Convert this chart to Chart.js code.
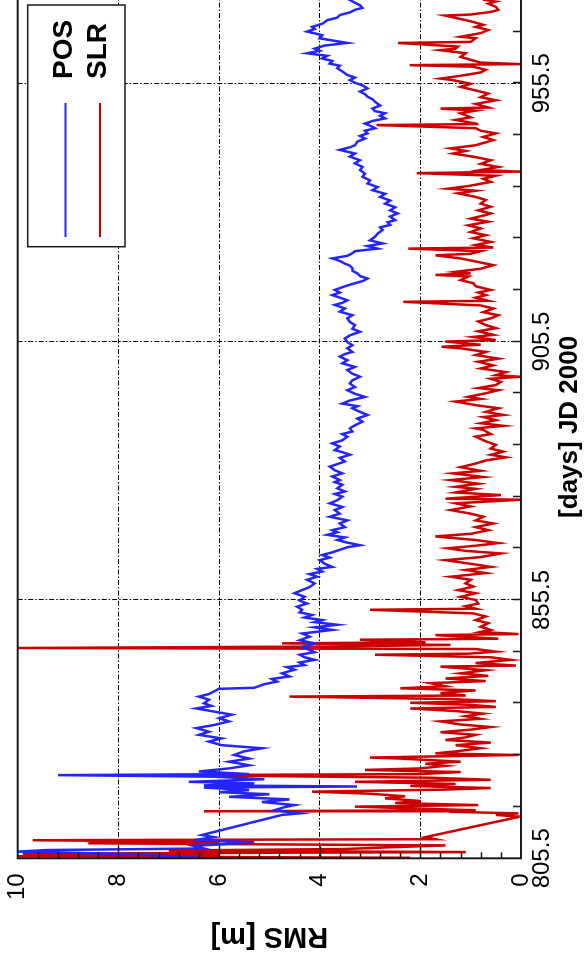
<!DOCTYPE html>
<html><head><meta charset="utf-8">
<script src="https://cdn.jsdelivr.net/npm/chart.js@4.4.1/dist/chart.umd.min.js"></script>
<style>
html,body{margin:0;padding:0;width:585px;height:968px;overflow:hidden;background:#fff;}
#wrap{position:absolute;left:0;top:0;width:990px;height:585px;transform-origin:0 0;transform:translate(0px,968px) rotate(-90deg);}
canvas{display:block;}
</style></head><body>
<div id="wrap"><canvas id="c" width="990" height="585"></canvas></div>
<script>
// Day ticks / RMS ticks
const dayTicks = [805.5, 855.5, 905.5, 955.5];
const dayTickLabels = ['805.5', '855.5', '905.5', '955.5'];
const rmsTicks = [0, 2, 4, 6, 8, 10];
const rmsTickLabels = ['0', '2', '4', '6', '8', '10'];
const seriesNames = ['POS', 'SLR'];

// POS series
const posDays = [
805.6,806.3,806.8,807.1,807.4,807.9,808.6,809.0,809.6,810.0,
813.9,814.2,814.8,815.4,815.8,816.4,816.9,817.4,817.9,818.3,
818.7,819.2,819.4,819.6,820.0,820.3,820.8,821.3,821.6,821.8,
822.3,822.9,823.5,824.2,824.8,825.5,826.2,826.8,827.4,828.1,
828.7,829.4,830.0,830.7,831.3,832.0,832.6,833.3,833.9,834.5,
835.0,835.5,836.2,836.8,837.3,837.8,838.3,838.5,839.2,839.7,
840.2,840.7,841.3,842.0,842.5,842.9,843.4,843.9,844.4,844.9,
845.4,845.8,846.4,847.1,847.7,848.4,849.0,849.7,850.2,850.7,
851.2,851.6,852.1,852.6,853.1,853.6,854.2,854.8,855.4,856.1,
856.8,857.4,858.0,858.7,859.4,860.0,860.5,861.0,861.5,861.9,
862.5,863.2,863.7,864.2,864.7,865.2,865.7,866.1,866.6,867.1,
867.6,868.1,868.6,869.0,869.6,870.3,870.9,871.6,872.2,872.9,
873.5,874.2,874.8,875.5,876.0,876.5,877.1,877.8,878.3,878.7,
879.4,880.0,880.6,881.3,881.8,882.3,883.0,883.6,884.1,884.5,
885.2,885.8,886.4,887.1,887.6,888.1,888.7,889.3,890.0,890.6,
891.3,891.9,892.6,893.0,893.5,894.1,894.8,895.4,896.1,896.7,
897.4,898.0,898.7,899.3,900.0,900.6,901.3,901.9,902.6,903.1,
903.5,904.2,904.8,905.4,906.1,906.7,907.4,908.0,908.7,909.3,
910.0,910.6,911.3,911.9,912.6,913.0,913.5,914.0,914.5,915.0,
915.5,916.2,916.8,917.2,917.7,918.2,918.7,919.2,919.7,920.2,
920.6,921.1,921.6,922.1,922.6,923.0,923.5,924.0,924.5,925.1,
925.8,926.4,927.1,927.6,928.1,928.6,929.0,929.7,930.3,930.9,
931.5,932.2,932.8,933.5,934.1,934.8,935.4,936.1,936.7,937.4,
938.0,938.7,939.3,940.0,940.6,941.3,941.9,942.6,943.1,943.5,
944.2,944.8,945.3,945.8,946.3,946.8,947.3,947.7,948.2,948.7,
949.2,949.7,950.1,950.6,951.2,951.9,952.4,952.9,953.4,953.9,
954.5,955.1,955.6,956.1,956.6,957.1,957.8,958.4,958.9,959.3,
959.8,960.3,960.8,961.3,961.8,962.2,962.8,963.3,963.7,964.2,
964.8,965.5,966.0,966.4,967.0,967.7,968.2,968.7,969.2,969.7,
970.1,970.6,971.1,971.6,972.2
];
const posRms = [
6.4,7.7,10.0,9.4,6.3,6.5,5.3,6.5,6.1,6.34,
4.75,4.4,4.9,4.7,4.5,5.15,4.6,5.8,5.0,6.0,
5.4,6.3,3.26,6.3,5.3,6.6,5.1,6.1,9.2,5.4,
6.4,5.8,5.4,5.8,5.4,5.7,5.5,5.15,5.95,6.2,
5.95,6.4,6.2,6.45,6.1,5.8,6.0,5.75,6.1,6.45,
6.15,6.3,6.2,6.4,6.2,6.1,6.0,5.3,5.1,4.85,
4.95,4.6,4.75,4.5,4.65,4.3,4.4,4.1,4.3,4.4,
4.1,4.2,4.35,4.1,4.4,4.2,4.35,3.75,4.1,3.65,
4.1,3.95,4.3,4.15,4.4,4.35,4.45,4.25,4.4,4.3,
4.5,4.35,4.2,4.1,4.25,4.05,4.2,3.95,4.05,3.75,
3.9,4.0,3.8,3.95,3.75,3.6,3.45,3.2,3.45,3.65,
3.5,3.85,3.65,3.75,3.5,3.6,3.45,3.8,3.6,3.7,
3.55,3.8,3.65,3.55,3.7,3.5,3.65,3.55,3.7,3.6,
3.75,3.55,3.7,3.8,3.65,3.5,3.6,3.4,3.55,3.7,
3.6,3.75,3.55,3.45,3.55,3.35,3.4,3.3,3.15,3.25,
3.05,3.2,3.35,3.25,3.55,3.4,3.1,3.3,3.45,3.3,
3.4,3.35,3.2,3.35,3.45,3.3,3.55,3.45,3.6,3.5,
3.35,3.45,3.35,3.45,3.5,3.4,3.2,3.35,3.3,3.4,
3.45,3.35,3.6,3.5,3.7,3.55,3.45,3.6,3.75,3.6,
3.7,3.5,3.3,3.15,3.05,3.2,3.25,3.35,3.35,3.4,
3.5,3.6,3.75,3.45,3.35,3.3,2.85,3.05,2.75,3.0,
2.9,2.85,2.75,2.8,2.6,2.65,2.5,2.6,2.45,2.6,
2.5,2.7,2.6,2.8,2.7,2.95,2.85,3.05,3.0,3.15,
3.1,3.2,3.15,3.3,3.2,3.4,3.3,3.6,3.4,3.3,
3.25,3.1,3.2,3.05,3.1,2.9,3.0,3.1,2.95,2.7,
2.8,2.7,2.9,2.95,2.8,2.9,2.95,3.05,3.1,3.2,
3.05,3.15,3.3,3.4,3.3,3.45,3.55,3.65,3.6,3.8,
3.75,3.95,3.85,4.25,4.0,4.1,3.9,3.45,3.7,4.0,
3.95,4.25,4.1,4.15,3.95,3.85,3.65,3.6,3.4,3.3,
3.15,3.2,3.3,3.4,3.5
];

// SLR series
const slrDays = [
805.6,805.9,806.2,806.4,806.7,807.0,807.3,807.6,808.0,808.4,
808.7,809.0,809.2,809.6,813.5,813.6,813.9,814.2,814.5,814.6,
814.8,815.2,815.5,815.8,816.2,816.6,817.1,817.5,818.0,818.4,
818.8,819.1,819.5,819.9,820.3,820.7,821.1,821.6,821.8,822.2,
822.6,822.9,823.4,823.8,824.2,824.8,825.0,825.5,825.8,826.3,
826.8,827.4,827.9,828.4,828.9,829.4,829.9,830.4,830.9,831.4,
832.0,832.5,833.0,833.5,834.0,834.5,834.8,835.2,835.6,835.9,
836.3,836.8,837.0,837.5,838.0,838.4,838.8,839.4,839.8,840.3,
840.8,841.3,841.9,842.6,842.8,843.3,843.9,844.4,844.9,845.1,
845.5,846.0,846.2,846.5,846.8,847.1,847.3,847.8,848.0,848.7,
848.9,849.3,849.7,850.3,851.0,851.6,852.3,852.9,853.6,853.8,
854.3,854.8,855.5,856.1,856.8,857.4,858.1,858.7,859.4,860.0,
860.7,861.3,861.9,862.5,863.2,863.8,864.5,865.0,865.5,866.0,
866.5,867.1,867.8,868.3,869.0,869.6,870.3,870.9,871.6,872.2,
872.9,873.6,874.2,874.9,875.1,875.8,876.3,877.0,877.4,878.0,
878.7,879.3,880.0,880.5,881.2,881.9,882.5,883.1,883.6,884.2,
884.8,885.5,886.2,887.1,887.6,888.4,888.7,889.2,889.7,890.3,
890.9,891.3,891.9,892.6,893.2,893.9,894.4,894.8,895.5,896.1,
896.5,897.1,897.7,898.3,898.7,899.0,899.6,900.3,900.9,901.6,
902.2,902.9,903.5,904.2,904.5,904.9,905.5,905.8,906.4,906.8,
907.5,908.1,908.7,909.4,910.0,910.6,911.2,911.9,912.5,913.2,
913.4,914.0,914.5,915.0,915.5,916.2,916.8,917.4,918.1,918.4,
918.7,919.0,919.6,920.3,920.9,921.6,922.2,922.5,923.0,923.5,
923.7,924.2,924.8,925.5,926.1,926.7,927.4,928.0,928.7,929.3,
930.0,930.3,930.9,931.6,932.2,932.9,933.5,934.2,934.7,935.1,
935.6,936.4,937.0,937.6,938.1,938.4,938.7,939.3,939.9,940.6,
941.2,941.9,942.4,942.9,943.5,944.5,945.1,945.8,946.3,946.8,
947.4,947.6,948.4,948.9,949.7,950.2,950.6,950.8,951.5,952.2,
952.8,953.5,954.1,954.8,955.4,956.1,956.4,957.1,957.6,958.1,
958.7,959.0,959.2,959.5,959.9,960.6,961.3,961.9,962.2,962.6,
963.3,963.5,964.2,964.5,965.2,965.8,966.4,966.8,967.5,968.6,
968.8,969.3,969.7,970.3,970.9,971.3,971.6,972.2
];
const slrRms = [
2.2,10.0,6.0,9.9,1.1,7.0,3.5,2.7,1.5,8.6,
6.0,9.7,1.7,1.9,0.05,0.1,0.5,0.05,1.4,6.3,
0.9,2.3,3.3,0.85,2.5,2.0,2.7,2.3,3.0,4.15,
1.5,0.6,2.2,1.3,3.3,0.6,1.8,7.0,2.0,1.2,
3.1,2.0,1.5,1.9,1.2,2.4,3.0,0.05,1.7,1.2,
0.8,1.3,0.6,1.5,1.1,0.9,1.6,1.0,0.6,1.2,
1.6,0.8,1.1,0.75,1.3,2.2,0.5,1.0,2.2,0.5,
1.3,4.6,1.1,1.6,0.9,2.4,1.5,1.8,0.7,1.5,
0.65,1.2,0.7,1.6,0.1,0.9,0.2,0.6,2.9,1.05,
0.5,0.9,10.0,3.6,1.4,4.75,1.9,3.2,0.45,1.7,
0.05,0.8,0.6,0.8,0.65,0.9,0.7,0.95,3.0,0.9,
1.1,0.85,0.9,1.2,0.9,1.25,0.95,1.1,1.0,1.4,
0.7,1.1,0.6,1.0,1.5,0.8,0.4,1.1,1.45,0.9,
0.45,0.9,1.7,1.0,0.65,0.9,0.55,0.9,0.75,1.0,
1.4,1.0,1.3,0.02,1.5,0.4,1.3,0.9,1.3,0.85,
1.4,0.75,1.35,0.8,1.2,0.9,0.7,0.3,0.6,0.35,
0.6,0.5,0.7,0.9,0.6,0.75,0.9,0.35,0.8,0.5,
0.75,0.35,0.7,0.45,0.9,1.3,0.8,1.05,0.7,0.45,
0.85,0.5,0.4,0.6,0.02,0.5,0.3,0.8,0.55,0.85,
0.45,0.9,0.7,1.2,1.58,0.8,1.5,0.5,0.95,0.55,
0.85,0.5,0.7,0.85,0.6,0.45,0.75,0.55,0.8,2.34,
0.65,0.9,0.7,0.85,0.6,0.9,0.95,1.2,1.05,1.7,
1.0,1.3,0.8,0.55,0.85,1.2,1.7,1.0,0.8,2.24,
0.55,0.9,0.6,0.95,0.7,1.0,0.8,1.05,0.65,1.0,
0.7,0.6,0.85,0.6,0.8,0.7,0.9,1.25,0.9,1.45,
1.05,0.6,0.75,0.5,2.07,0.02,0.8,0.45,0.8,0.6,
0.9,1.35,1.1,1.4,0.9,0.55,0.75,0.5,0.8,0.9,
2.87,0.85,1.3,1.0,1.2,0.9,1.6,0.65,0.9,0.5,
0.8,0.65,0.9,1.2,1.0,1.35,1.6,1.1,0.8,0.7,
0.95,2.21,0.02,0.8,0.95,1.2,1.1,1.6,1.3,1.25,
2.44,1.0,0.9,1.2,0.8,0.65,0.9,0.75,1.0,1.51,
1.0,0.6,0.45,0.5,0.65,0.5,0.7,0.6
];

const FONT = "'Liberation Sans', Arial, Helvetica, sans-serif";
const DASH = [5, 2, 1.5, 2];

const framePlugin = {
  id: 'frame',
  afterDatasetsDraw(chart) {
    const {ctx, chartArea: a, scales: {x, y}} = chart;
    ctx.save();
    ctx.strokeStyle = '#1a1a1a';
    ctx.lineWidth = 2;
    ctx.setLineDash([]);
    ctx.strokeRect(a.left, a.top, a.right - a.left, a.bottom - a.top);
    ctx.lineWidth = 1.5;
    ctx.beginPath();
    for (let d = dayTicks[0] + 10; d < x.max; d += 10) {
      const px = Math.round(x.getPixelForValue(d)) + 0.5;
      ctx.moveTo(px, a.bottom);
      ctx.lineTo(px, a.bottom - 8);
    }
    for (let k = 1; k < 25; k++) {
      const v = k * 0.4;
      const py = Math.round(y.getPixelForValue(v)) + 0.5;
      const len = (k % 5 === 0) ? 12 : 6;
      ctx.moveTo(a.left, py);
      ctx.lineTo(a.left + len, py);
    }
    ctx.stroke();
    ctx.restore();
  }
};

const legendPlugin = {
  id: 'boxLegend',
  afterDraw(chart) {
    const ctx = chart.ctx;
    const bx = 721.3, by = 27.7, bw = 241.7, bh = 97.3;
    ctx.save();
    ctx.fillStyle = '#fff';
    ctx.fillRect(bx, by, bw, bh);
    ctx.strokeStyle = '#1a1a1a';
    ctx.lineWidth = 1.5;
    ctx.strokeRect(bx, by, bw, bh);
    const rows = [65.5, 100];
    const textY = [64.5, 98.5];
    chart.data.datasets.forEach((ds, i) => {
      ctx.strokeStyle = ds.borderColor;
      ctx.lineWidth = 2;
      ctx.beginPath();
      ctx.moveTo(731, rows[i]);
      ctx.lineTo(865, rows[i]);
      ctx.stroke();
      ctx.fillStyle = '#000';
      ctx.font = "bold 28px " + FONT;
      ctx.textBaseline = 'middle';
      ctx.textAlign = 'left';
      ctx.fillText(ds.label, 889, textY[i]);
    });
    ctx.restore();
  }
};

new Chart(document.getElementById('c'), {
  type: 'line',
  data: {
    datasets: [
      {label: seriesNames[0], data: posDays.map((d, i) => ({x: d, y: posRms[i]})),
       borderColor: '#2424ff', borderWidth: 2.5, pointRadius: 0, tension: 0, fill: false},
      {label: seriesNames[1], data: slrDays.map((d, i) => ({x: d, y: slrRms[i]})),
       borderColor: '#cc0000', borderWidth: 2.5, pointRadius: 0, tension: 0, fill: false}
    ]
  },
  options: {
    responsive: false,
    animation: false,
    devicePixelRatio: 1,
    layout: {autoPadding: false, padding: {left: 0, top: 17.7, right: 17.4, bottom: 0}},
    plugins: {legend: {display: false}, tooltip: {enabled: false}},
    scales: {
      x: {
        type: 'linear', position: 'bottom', min: 805.5, max: 972.5,
        afterBuildTicks: s => { s.ticks = dayTicks.map(v => ({value: v})); },
        afterFit: s => { s.height = 64; s.paddingLeft = 0; s.paddingRight = 0; },
        ticks: {autoSkip: false, maxRotation: 0, minRotation: 0, padding: 7, color: '#000',
                font: {family: FONT, size: 24}, callback: (v, i) => dayTickLabels[i]},
        grid: {drawTicks: false, lineWidth: 1,
               color: c => (c.tick && c.tick.value > dayTicks[0]) ? '#000' : 'rgba(0,0,0,0)'},
        border: {display: false, dash: DASH},
        title: {display: true, text: '[days] JD 2000', color: '#000',
                font: {family: FONT, size: 26, weight: 'bold'}, padding: {top: 0, bottom: 0}}
      },
      y: {
        type: 'linear', position: 'left', min: 0, max: 10,
        afterBuildTicks: s => { s.ticks = rmsTicks.map(v => ({value: v})); },
        afterFit: s => { s.width = 109.7; s.paddingTop = 0; s.paddingBottom = 0; },
        ticks: {autoSkip: false, padding: 15, color: '#000',
                font: {family: FONT, size: 24}, callback: (v, i) => rmsTickLabels[i]},
        grid: {drawTicks: false, lineWidth: 1,
               color: c => (c.tick && c.tick.value > 0 && c.tick.value < 10) ? '#000' : 'rgba(0,0,0,0)'},
        border: {display: false, dash: DASH},
        title: {display: true, text: 'RMS [m]', color: '#000',
                font: {family: FONT, size: 29, weight: 'bold'}, padding: {top: 14.6, bottom: 0}}
      }
    }
  },
  plugins: [framePlugin, legendPlugin]
});
</script>
</body></html>
